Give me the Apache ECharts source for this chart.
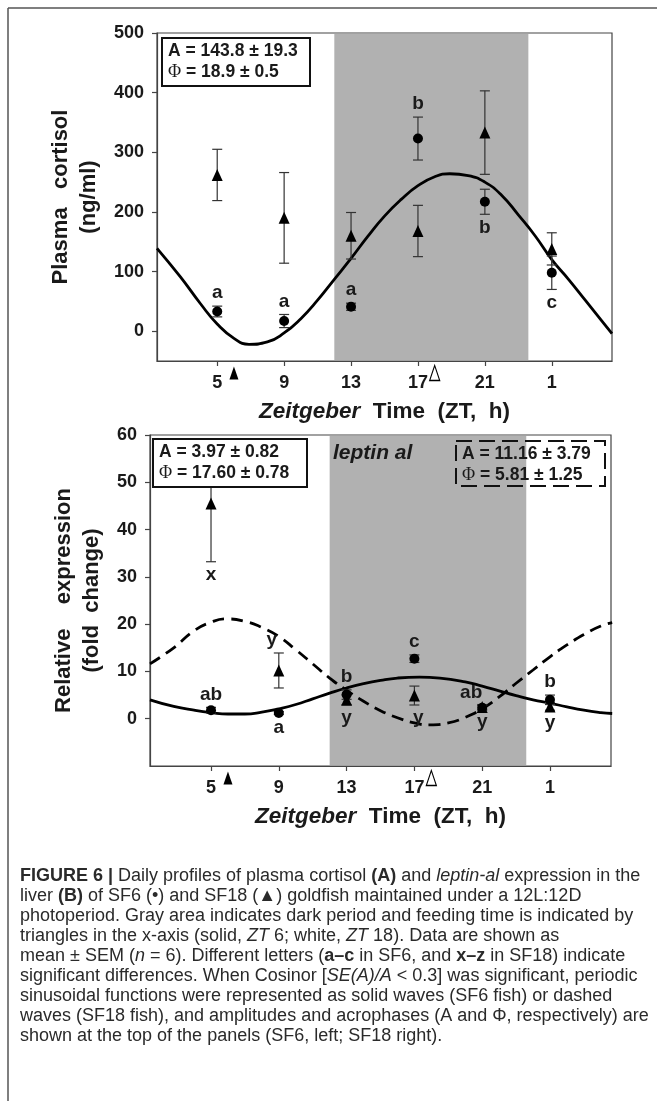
<!DOCTYPE html>
<html><head><meta charset="utf-8">
<script src="https://cdn.jsdelivr.net/npm/echarts@6/dist/echarts.min.js"></script>
<style>html,body{margin:0;padding:0;background:#fff}#c{width:657px;height:1101px}</style>
</head><body><div id="c"></div>
<script>
// ================= DATA =================
const times = [5, 9, 13, 17, 21, 25];              // ZT (25 == ZT 1 of next day)
const xTickLabels = ['5', '9', '13', '17', '21', '1'];
const darkPeriod = [12, 23.6];
const feedSolidZT = 6;
const feedWhiteZT = 18;

// Panel A: plasma cortisol (ng/ml)
const cortisolSF6 = [33, 17, 41, 323, 217, 98];
const cortisolSF6Err = [9, 11, 6, 36, 21, 28];
const cortisolSF18 = [262, 190, 160, 168, 333, 138];
const cortisolSF18Err = [43, 76, 39, 43, 70, 27];
const cortisolSF6Letters = ['a', 'a', 'a', 'b', 'b', 'c'];
const cortisolYTicks = [0, 100, 200, 300, 400, 500];
// SF6 cosinor wave
const cortisolFitT = [1.4, 2.8, 4, 5, 6, 6.9, 8, 9, 10, 11, 12, 13, 14, 15, 16, 17, 18, 18.9, 20, 21, 22, 23, 24, 25, 26, 27, 28, 28.6];
const cortisolFitV = [139, 91, 46, 12, -12, -22, -18, -3, 21, 52, 87, 122, 159, 193, 221, 244, 259, 264, 261, 250, 228, 195, 160, 120, 87, 52, 17, -4];

// Panel B: leptin al relative expression (fold change)
const leptinSF6 = [1.8, 1.2, 5.1, 12.7, 2.3, 4.0];
const leptinSF6Err = [0.6, 0.3, 1.0, 0.8, 0.5, 1.0];
const leptinSF18 = [45.5, 10.2, 4.0, 4.9, 2.5, 2.6];
const leptinSF18Err = [12.3, 3.7, 1.0, 2.0, 0.5, 0.8];
const leptinSF6Letters = ['ab', 'a', 'b', 'c', 'ab', 'b'];
const leptinSF18Letters = ['x', 'y', 'y', 'y', 'y', 'y'];
const leptinYTicks = [0, 10, 20, 30, 40, 50, 60];
const leptinFitSF6T = [1.4, 2.8, 4, 5, 6, 7, 8, 9, 10, 11, 12, 13, 14, 15, 16, 17.3, 18.5, 20, 21, 22, 23, 24, 25, 26, 27, 28, 28.67];
const leptinFitSF6V = [4.0, 2.6, 1.8, 1.3, 1.0, 1.0, 1.4, 2.1, 3.0, 4.2, 5.4, 6.5, 7.4, 8.1, 8.6, 8.8, 8.6, 7.8, 6.9, 5.9, 4.9, 4.0, 3.3, 2.5, 1.8, 1.3, 1.1];
const leptinFitSF18T = [1.4, 2.8, 4, 5, 5.9, 7, 8, 9, 10, 11, 12, 13, 14, 15, 16, 17, 17.9, 19, 20, 21, 22, 23, 24, 25, 26, 27, 28, 28.67];
const leptinFitSF18V = [11.6, 15.0, 18.6, 20.4, 21.1, 20.6, 19.3, 17.4, 14.6, 11.6, 8.6, 6.0, 3.7, 1.7, 0.2, -0.9, -1.3, -0.9, 0.3, 2.1, 4.6, 7.5, 10.3, 13.1, 15.6, 17.8, 19.6, 20.3];

// Cosinor parameters shown in the panels
const cortisolParams = ['A = 143.8 ± 19.3', '= 18.9 ± 0.5'];
const leptinSF6Params = ['A = 3.97 ± 0.82', '= 17.60 ± 0.78'];
const leptinSF18Params = ['A = 11.16 ± 3.79', '= 5.81 ± 1.25'];

// ================= LAYOUT (placement only) =================
const cortisolSF6Side = ['top', 'top', 'top', 'top', 'bottom', 'bottom'];
const leptinSF6Side = ['top', 'bottom', 'top', 'top', 'top', 'top'];
const leptinSF18Side = ['bottom', 'top', 'bottom', 'bottom', 'bottom', 'bottom'];
const leptinSF6Shift = [0, 0, 0, 0, -11, 0];
const leptinSF18Shift = [0, -7, 0, 4, 0, 0];

const FONT = 'Liberation Sans, Arial, Helvetica, sans-serif';
const SERIF = 'Liberation Serif, Times New Roman, serif';
const INK = '#1a1a1a';
const AX = '#444';

const gridA = { left: 157, top: 33, width: 455, height: 328 };
const gridB = { left: 150, top: 435, width: 461, height: 331 };
const yA = [-50, 500];
const yB = [-10, 60];
const xR = [1.4, 28.6];

function xAxisCfg(gi) {
  return {
    type: 'value', gridIndex: gi, min: xR[0], max: xR[1],
    axisLine: { show: true, onZero: false, lineStyle: { color: AX, width: 1.2 } },
    axisTick: { show: true, inside: false, length: 5, customValues: times, lineStyle: { color: AX, width: 1.2 } },
    axisLabel: {
      customValues: times, margin: 13,
      formatter: v => xTickLabels[times.indexOf(v)],
      fontFamily: FONT, fontWeight: 'bold', fontSize: 18, color: INK
    },
    splitLine: { show: false },
    name: '{i|Zeitgeber}  Time  (ZT,  h)', nameLocation: 'middle', nameGap: 39,
    nameTextStyle: {
      fontFamily: FONT, fontWeight: 'bold', fontSize: 22.5, color: INK,
      rich: { i: { fontFamily: FONT, fontWeight: 'bold', fontStyle: 'italic', fontSize: 22.5, color: INK } }
    }
  };
}
function yAxisCfg(gi, rng, ticks, name, gap) {
  return {
    type: 'value', gridIndex: gi, min: rng[0], max: rng[1],
    axisLine: { show: true, onZero: false, lineStyle: { color: AX, width: 1.2 } },
    axisTick: { show: true, inside: false, length: 5, customValues: ticks, lineStyle: { color: AX, width: 1.2 } },
    axisLabel: { customValues: ticks, margin: 13, fontFamily: FONT, fontWeight: 'bold', fontSize: 18, color: INK },
    splitLine: { show: false },
    name: name, nameLocation: 'middle', nameGap: gap,
    nameTextStyle: { fontFamily: FONT, fontWeight: 'bold', fontSize: 22, lineHeight: 28, color: INK, align: 'center' }
  };
}

function errRender(params, api) {
  const x = api.value(0), lo = api.value(1), hi = api.value(2);
  const p1 = api.coord([x, lo]), p2 = api.coord([x, hi]);
  const w = 5;
  const style = { stroke: '#333', lineWidth: 1.2, fill: null };
  return {
    type: 'group', children: [
      { type: 'line', shape: { x1: p1[0], y1: p1[1], x2: p2[0], y2: p2[1] }, style },
      { type: 'line', shape: { x1: p1[0] - w, y1: p1[1], x2: p1[0] + w, y2: p1[1] }, style },
      { type: 'line', shape: { x1: p2[0] - w, y1: p2[1], x2: p2[0] + w, y2: p2[1] }, style }
    ]
  };
}
function darkRender(params, api) {
  const a = api.coord([api.value(0), api.value(2)]);
  const b = api.coord([api.value(1), api.value(3)]);
  return { type: 'rect', shape: { x: a[0], y: a[1] + 1, width: b[0] - a[0], height: b[1] - a[1] - 2 }, style: { fill: '#b1b1b1' } };
}

const zip = (a, b) => a.map((v, i) => [v, b[i]]);
const errData = (m, e) => times.map((t, i) => [t, m[i] - e[i], m[i] + e[i]]);

function letterSeries(gi, means, errs, letters, sides, shifts) {
  return {
    type: 'scatter', xAxisIndex: gi, yAxisIndex: gi, z: 8, silent: true,
    symbolSize: 1, itemStyle: { color: 'rgba(0,0,0,0)', opacity: 1 },
    data: letters.map((L, i) => ({
      value: [times[i], sides[i] === 'top' ? means[i] + errs[i] : means[i] - errs[i], L],
      label: { position: sides[i], offset: [shifts ? shifts[i] : 0, 0] }
    })),
    label: {
      show: true, distance: 3, formatter: p => p.value[2],
      fontFamily: FONT, fontWeight: 'bold', fontSize: 19, color: INK, opacity: 1
    }
  };
}
function feedSeries(gi, rng) {
  return [
    { type: 'scatter', xAxisIndex: gi, yAxisIndex: gi, clip: false, z: 9, silent: true,
      symbol: 'triangle', symbolSize: [9, 13], symbolOffset: [0, 12],
      itemStyle: { color: '#000', opacity: 1 }, data: [[feedSolidZT, rng[0]]] },
    { type: 'scatter', xAxisIndex: gi, yAxisIndex: gi, clip: false, z: 9, silent: true,
      symbol: 'triangle', symbolSize: [10, 15], symbolOffset: [0, 12],
      itemStyle: { color: '#fff', borderColor: '#000', borderWidth: 1.3, opacity: 1 }, data: [[feedWhiteZT, rng[0]]] }
  ];
}
function panelSeries(gi, rng, sf6, sf6e, sf18, sf18e) {
  return [
    { type: 'custom', xAxisIndex: gi, yAxisIndex: gi, z: 1, silent: true, renderItem: darkRender,
      encode: { x: [0, 1], y: [2, 3] }, data: [[darkPeriod[0], darkPeriod[1], rng[1], rng[0]]] },
    { type: 'custom', xAxisIndex: gi, yAxisIndex: gi, z: 4, silent: true, renderItem: errRender,
      encode: { x: 0, y: [1, 2] }, data: errData(sf6, sf6e) },
    { type: 'custom', xAxisIndex: gi, yAxisIndex: gi, z: 4, silent: true, renderItem: errRender,
      encode: { x: 0, y: [1, 2] }, data: errData(sf18, sf18e) },
    { type: 'scatter', xAxisIndex: gi, yAxisIndex: gi, z: 6, silent: true, symbol: 'circle', symbolSize: 10,
      itemStyle: { color: '#000', opacity: 1 }, data: zip(times, sf6) },
    { type: 'scatter', xAxisIndex: gi, yAxisIndex: gi, z: 6, silent: true, symbol: 'triangle', symbolSize: [11, 12],
      itemStyle: { color: '#000', opacity: 1 }, data: zip(times, sf18) }
  ];
}
function curve(gi, t, v, dashed) {
  return { type: 'line', xAxisIndex: gi, yAxisIndex: gi, z: 3, silent: true, smooth: 0.5, showSymbol: false,
    lineStyle: { color: '#000', width: 2.8, type: dashed ? [12, 7] : 'solid' }, data: zip(t, v) };
}

function paramBox(x, y, w, h, lines, dashed) {
  const rich = {
    p: { fontFamily: SERIF, fontSize: 18, fontWeight: 'normal', fill: INK },
    t: { fontFamily: FONT, fontSize: 17.5, fontWeight: 'bold', fill: INK }
  };
  return [
    { type: 'rect', z: 100, shape: { x, y, width: w, height: h },
      style: { fill: dashed ? 'rgba(0,0,0,0)' : '#fff', stroke: '#111', lineWidth: 2, lineDash: dashed ? [16, 7] : null } },
    { type: 'text', z: 101, x: x + 6, y: y + 13, style: { text: '{t|' + lines[0] + '}', rich, verticalAlign: 'middle' } },
    { type: 'text', z: 101, x: x + 6, y: y + 34, style: { text: '{p|Φ}{t| ' + lines[1] + '}', rich, verticalAlign: 'middle' } }
  ];
}

const CAP = 18;
const capRich = {
  n: { fontFamily: FONT, fontSize: CAP, fill: '#2a2a2a' },
  b: { fontFamily: FONT, fontSize: CAP, fontWeight: 'bold', fill: '#2a2a2a' },
  i: { fontFamily: FONT, fontSize: CAP, fontStyle: 'italic', fill: '#2a2a2a' }
};
const captionLines = [
  '{b|FIGURE 6 |}{n| Daily profiles of plasma cortisol }{b|(A)}{n| and }{i|leptin-al}{n| expression in the}',
  '{n|liver }{b|(B)}{n| of SF6 (•) and SF18 (▲) goldfish maintained under a 12L:12D}',
  '{n|photoperiod. Gray area indicates dark period and feeding time is indicated by}',
  '{n|triangles in the x-axis (solid, }{i|ZT}{n| 6; white, }{i|ZT}{n| 18). Data are shown as}',
  '{n|mean ± SEM (}{i|n}{n| = 6). Different letters (}{b|a–c}{n| in SF6, and }{b|x–z}{n| in SF18) indicate}',
  '{n|significant differences. When Cosinor [}{i|SE(A)/A}{n| < 0.3] was significant, periodic}',
  '{n|sinusoidal functions were represented as solid waves (SF6 fish) or dashed}',
  '{n|waves (SF18 fish), and amplitudes and acrophases (A and Φ, respectively) are}',
  '{n|shown at the top of the panels (SF6, left; SF18 right).}'
];

const graphics = [
  { type: 'line', shape: { x1: 8, y1: 8, x2: 657, y2: 8 }, style: { stroke: '#555', lineWidth: 1.5 } },
  { type: 'line', shape: { x1: 8, y1: 8, x2: 8, y2: 1101 }, style: { stroke: '#555', lineWidth: 1.5 } },
  ...paramBox(162, 38, 148, 48, cortisolParams, false),
  ...paramBox(153, 439, 154, 48, leptinSF6Params, false),
  ...paramBox(456, 441, 149, 45, leptinSF18Params, true),
  { type: 'text', z: 101, x: 333, y: 453, style: { text: 'leptin al', font: 'italic bold 21px ' + FONT, fill: INK, verticalAlign: 'middle' } },
  ...captionLines.map((s, i) => ({ type: 'text', x: 20, y: 876 + i * 20, style: { text: s, rich: capRich, verticalAlign: 'middle' } }))
];

const chart = echarts.init(document.getElementById('c'), null, { renderer: 'canvas' });
chart.setOption({
  animation: false,
  backgroundColor: '#fff',
  grid: [
    Object.assign({ show: true, borderColor: AX, borderWidth: 1.2, backgroundColor: 'rgba(0,0,0,0)' }, gridA),
    Object.assign({ show: true, borderColor: AX, borderWidth: 1.2, backgroundColor: 'rgba(0,0,0,0)' }, gridB)
  ],
  xAxis: [xAxisCfg(0), xAxisCfg(1)],
  yAxis: [
    yAxisCfg(0, yA, cortisolYTicks, 'Plasma   cortisol\n(ng/ml)', 53),
    yAxisCfg(1, yB, leptinYTicks, 'Relative    expression\n(fold  change)', 40)
  ],
  series: [
    ...panelSeries(0, yA, cortisolSF6, cortisolSF6Err, cortisolSF18, cortisolSF18Err),
    curve(0, cortisolFitT, cortisolFitV, false),
    letterSeries(0, cortisolSF6, cortisolSF6Err, cortisolSF6Letters, cortisolSF6Side, null),
    ...feedSeries(0, yA),
    ...panelSeries(1, yB, leptinSF6, leptinSF6Err, leptinSF18, leptinSF18Err),
    curve(1, leptinFitSF6T, leptinFitSF6V, false),
    curve(1, leptinFitSF18T, leptinFitSF18V, true),
    letterSeries(1, leptinSF6, leptinSF6Err, leptinSF6Letters, leptinSF6Side, leptinSF6Shift),
    letterSeries(1, leptinSF18, leptinSF18Err, leptinSF18Letters, leptinSF18Side, leptinSF18Shift),
    ...feedSeries(1, yB)
  ],
  graphic: graphics
});
</script></body></html>
